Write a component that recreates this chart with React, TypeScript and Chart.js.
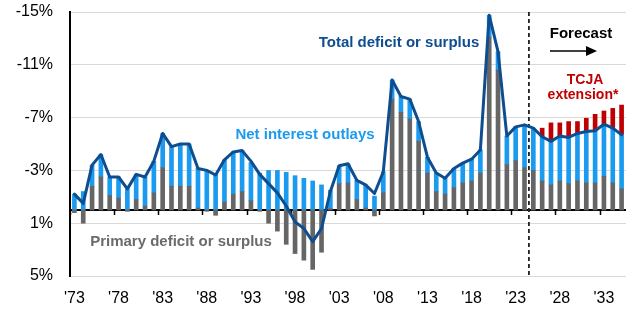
import { useEffect, useRef } from "react";
import { Chart, registerables } from "chart.js";

Chart.register(...registerables);

// Fiscal years on the category axis
const years = [
  "1973", "1974", "1975", "1976", "1977", "1978", "1979",
  "1980", "1981", "1982", "1983", "1984", "1985", "1986", "1987", "1988", "1989",
  "1990", "1991", "1992", "1993", "1994", "1995", "1996", "1997", "1998", "1999",
  "2000", "2001", "2002", "2003", "2004", "2005", "2006", "2007", "2008", "2009",
  "2010", "2011", "2012", "2013", "2014", "2015", "2016", "2017", "2018", "2019",
  "2020", "2021", "2022", "2023", "2024", "2025", "2026", "2027", "2028", "2029",
  "2030", "2031", "2032", "2033", "2034", "2035",
];

// Primary balance, % of GDP (deficit negative)
const primaryBalance = [
  0.2, 1.0, -1.8, -2.5, -1.1, -0.9, 0.1,
  -0.8, -0.3, -1.3, -3.2, -1.8, -1.8, -1.8, -0.15, 0.1, 0.4,
  -0.6, -1.2, -1.4, -0.7, 0.1, 1.0, 1.6, 2.6, 3.3, 3.8,
  4.5, 3.2, -0.1, -2.0, -2.05, -0.8, -0.15, 0.45, -1.3, -8.4,
  -7.4, -6.9, -5.2, -2.8, -1.4, -1.2, -1.7, -2.05, -2.2, -2.8,
  -13.1, -10.6, -3.45, -3.75, -3.2, -3.0, -2.2, -1.9, -2.2, -2.0,
  -2.2, -2.05, -2.05, -2.55, -2.05, -1.6,
];

// Net interest outlays, % of GDP (negative = adds to deficit)
const netInterest = [
  -1.2, -1.4, -1.6, -1.7, -1.4, -1.6, -1.6,
  -1.9, -2.2, -2.4, -2.6, -3.0, -3.2, -3.2, -3.0, -3.0, -2.7,
  -3.2, -3.2, -3.1, -2.9, -2.8, -3.0, -3.0, -2.85, -2.6, -2.4,
  -2.2, -1.9, -1.4, -1.35, -1.45, -1.45, -1.75, -1.05, -1.6, -1.45,
  -1.2, -1.5, -1.5, -1.2, -1.4, -1.2, -1.45, -1.5, -1.65, -1.75,
  -1.65, -1.4, -2.15, -2.55, -3.2, -3.2, -3.35, -3.3, -3.4, -3.5,
  -3.6, -3.9, -3.95, -3.95, -4.15, -4.1,
];

// Added deficit if the TCJA is extended, % of GDP
const tcjaExtension = [
  null, null, null, null, null, null, null,
  null, null, null, null, null, null, null, null, null, null,
  null, null, null, null, null, null, null, null, null, null,
  null, null, null, null, null, null, null, null, null, null,
  null, null, null, null, null, null, null, null, null, null,
  null, null, null, null, null, null, -0.65, -1.4, -1.0, -1.2,
  -0.9, -1.0, -1.25, -1.0, -1.5, -2.25,
];

// Total budget balance, % of GDP
const totalBalance = [
  -1.2, -0.5, -3.4, -4.2, -2.5, -2.5, -1.6,
  -2.7, -2.5, -3.7, -5.8, -4.8, -5.0, -5.0, -3.15, -3.0, -2.65,
  -3.8, -4.4, -4.5, -3.7, -2.7, -2.0, -1.3, -0.3, 0.9, 1.4,
  2.4, 1.4, -1.4, -3.35, -3.5, -2.25, -1.9, -1.25, -2.9, -9.85,
  -8.6, -8.4, -6.7, -4.0, -2.8, -2.4, -3.15, -3.55, -3.85, -4.55,
  -14.75, -12.0, -5.6, -6.3, -6.45, -6.2, -5.55, -5.2, -5.6, -5.5,
  -5.8, -5.95, -6.0, -6.5, -6.2, -5.7,
];

const yMin = -15;
const yMax = 5;
const yStep = 4;
const forecastFrom = "2025";

const FONT = "'Liberation Sans', Arial, Helvetica, sans-serif";
const GRAY = "#666666";
const BLUE = "#1b9bef";
const NAVY = "#0e4d8f";
const RED = "#c00000";

const overlay = {
  id: "overlay",
  beforeDatasetsDraw(chart: any) {
    const { ctx, chartArea, scales } = chart;
    const x = scales.x;
    const y = scales.y;
    const y0 = y.getPixelForValue(0);
    const band = x.getPixelForValue(1) - x.getPixelForValue(0);
    ctx.save();
    // zero line with a tick every fifth year
    ctx.strokeStyle = "#000";
    ctx.lineWidth = 2;
    ctx.beginPath();
    ctx.moveTo(chartArea.left, y0);
    ctx.lineTo(chartArea.right, y0);
    ctx.stroke();
    ctx.lineWidth = 1.5;
    for (let i = 0; i < years.length; i += 5) {
      const px = Math.round(x.getPixelForValue(i) - band / 2) + 0.5;
      ctx.beginPath();
      ctx.moveTo(px, y0);
      ctx.lineTo(px, y0 + 5);
      ctx.stroke();
    }
    // forecast divider
    const fx = x.getPixelForValue(years.indexOf(forecastFrom)) - band / 2;
    ctx.setLineDash([4, 3]);
    ctx.lineWidth = 1.8;
    ctx.strokeStyle = "#222";
    ctx.beginPath();
    ctx.moveTo(fx, chartArea.top);
    ctx.lineTo(fx, chartArea.bottom);
    ctx.stroke();
    ctx.restore();
  },
  afterDatasetsDraw(chart: any) {
    const { ctx } = chart;
    ctx.save();
    ctx.textAlign = "center";
    ctx.textBaseline = "middle";
    ctx.font = `bold 15px ${FONT}`;
    ctx.fillStyle = NAVY;
    ctx.fillText("Total deficit or surplus", 399, 43);
    ctx.fillStyle = BLUE;
    ctx.fillText("Net interest outlays", 305, 135);
    ctx.fillStyle = "#6b6b6b";
    ctx.fillText("Primary deficit or surplus", 181, 242);
    ctx.fillStyle = "#000";
    ctx.fillText("Forecast", 581, 34);
    // arrow
    ctx.strokeStyle = "#000";
    ctx.lineWidth = 1.5;
    ctx.beginPath();
    ctx.moveTo(550, 51);
    ctx.lineTo(588, 51);
    ctx.stroke();
    ctx.beginPath();
    ctx.moveTo(586, 46);
    ctx.lineTo(597, 51);
    ctx.lineTo(586, 56);
    ctx.closePath();
    ctx.fill();
    ctx.fillStyle = RED;
    ctx.font = `bold 14px ${FONT}`;
    ctx.fillText("TCJA", 585, 80);
    ctx.fillText("extension*", 583, 95);
    ctx.restore();
  },
};

export default function App() {
  const ref = useRef<HTMLCanvasElement>(null);

  useEffect(() => {
    const chart = new Chart(ref.current as HTMLCanvasElement, {
      type: "bar",
      data: {
        labels: years,
        datasets: [
          {
            type: "line",
            label: "Total deficit or surplus",
            data: totalBalance,
            borderColor: NAVY,
            borderWidth: 3,
            pointRadius: 0,
            borderJoinStyle: "round",
            borderCapStyle: "round",
            tension: 0,
            stack: "total",
            order: -1,
          } as any,
          {
            label: "Primary deficit or surplus",
            data: primaryBalance,
            backgroundColor: GRAY,
            barThickness: 4,
            stack: "deficit",
          },
          {
            label: "Net interest outlays",
            data: netInterest,
            backgroundColor: BLUE,
            barThickness: 4,
            stack: "deficit",
          },
          {
            label: "TCJA extension",
            data: tcjaExtension,
            backgroundColor: RED,
            barThickness: 4,
            stack: "deficit",
          },
        ],
      },
      options: {
        responsive: false,
        animation: false,
        devicePixelRatio: 1,
        layout: { padding: { left: 8, right: 11, top: 12, bottom: 0 } },
        plugins: { legend: { display: false }, tooltip: { enabled: false } },
        scales: {
          x: {
            stacked: true,
            grid: { display: false, drawTicks: false, tickLength: 0 },
            border: { display: false },
            ticks: {
              autoSkip: false,
              maxRotation: 0,
              minRotation: 0,
              padding: 13,
              color: "#000",
              font: { family: FONT, size: 16 },
              callback: (_v: any, i: number) => (i % 5 === 0 ? "'" + years[i].slice(2) : ""),
            },
            afterFit: (s: any) => {
              s.height = 45;
            },
          },
          y: {
            min: yMin,
            max: yMax,
            reverse: true,
            stacked: true,
            grid: {
              color: "#d9d9d9",
              lineWidth: 1,
              drawTicks: true,
              tickLength: 17,
              tickColor: "rgba(0,0,0,0)",
            },
            border: { display: true, color: "#000", width: 2 },
            ticks: {
              stepSize: yStep,
              padding: 0,
              color: "#000",
              font: { family: FONT, size: 16 },
              callback: (v: any) => `${v}%`,
            },
            afterFit: (s: any) => {
              s.width = 62;
            },
          },
        },
      },
      plugins: [overlay],
    });
    return () => chart.destroy();
  }, []);

  return (
    <div style={{ position: "absolute", left: 0, top: 0, width: 637, height: 321, background: "#fff" }}>
      <canvas ref={ref} width={637} height={321} style={{ display: "block" }} />
    </div>
  );
}
